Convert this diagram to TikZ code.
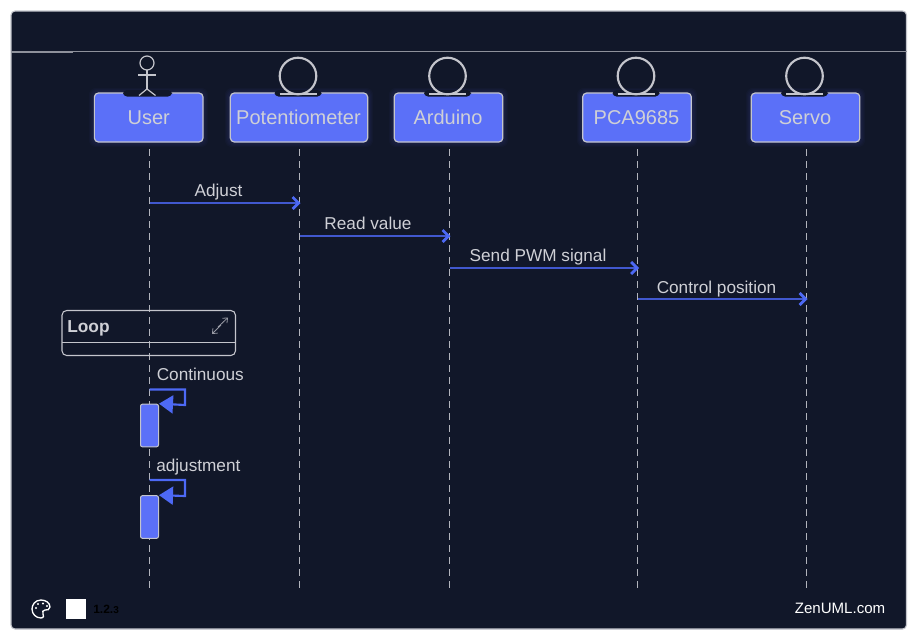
\documentclass[tikz,border=0pt]{standalone}
\usepackage{fontspec}
\setmainfont{Liberation Sans}
\usetikzlibrary{arrows.meta,calc}
\definecolor{bgdark}{HTML}{111729}
\definecolor{boxblue}{HTML}{5B70F8}
\definecolor{edgegrey}{HTML}{C4C5CC}
\definecolor{inktext}{HTML}{CFD0D6}
\definecolor{msgblue}{HTML}{4158CF}
\definecolor{tipblue}{HTML}{4D69F5}
\definecolor{glowblue}{HTML}{5B70F8}
\newcommand{\boxtext}[1]{\hspace*{-0.75pt}#1}
\tikzset{
  x=0.75pt,y=-0.75pt,
  actorbox/.style={draw=edgegrey,line width=0.9pt,fill=boxblue,rounded corners=3pt,minimum height=36.75pt,inner sep=0pt,text=inktext,font=\fontsize{15}{18}\selectfont},
  lifeline/.style={draw=edgegrey!90!bgdark,line width=0.75pt,dash pattern=on 5.25pt off 3.75pt},
  msg/.style={draw=msgblue,line width=1pt,-{Straight Barb[length=4.5pt,width=9pt,line width=2pt,color=tipblue]}},
  selfmsg/.style={draw=tipblue,line width=1.6pt,-{Triangle[length=10.5pt,width=13.5pt,color=tipblue]}},
  msglabel/.style={text=inktext,font=\fontsize{12.9}{15}\selectfont,inner sep=0pt,anchor=base},
  activation/.style={draw=edgegrey,line width=0.75pt,fill=boxblue,rounded corners=1.5pt,minimum width=13.5pt,inner sep=0pt},
  figureink/.style={draw=edgegrey,line width=0.9pt},
  entityink/.style={draw=edgegrey,line width=1.6pt},
  notch/.style={fill=bgdark,draw=none,rounded corners=3pt}
}
\begin{document}
\begin{tikzpicture}
\useasboundingbox (0,0) rectangle (917,640);
\fill[white] (0,0) rectangle (917,640);
\draw[draw=edgegrey,line width=0.8pt,fill=bgdark,rounded corners=3pt] (11,11) rectangle (906.5,629);
\draw[draw=edgegrey!70!bgdark,line width=0.8pt] (11,51.5) -- (906.5,51.5);
\draw[draw=edgegrey!70!bgdark,line width=1.1pt] (11,51.8) -- (73,51.8);
% glows
\foreach \a/\b in {94/203,230/368,394/503,582/692,751/860}{
  \foreach \g in {5,4,3,2,1}{
    \fill[glowblue,opacity=0.03,rounded corners=5pt] (\a-\g,93-\g) rectangle (\b+\g,142+\g);
  }
}
% actor boxes
\node[actorbox,minimum width=81.5pt] (user) at (148.7,117.5) {User};
\node[actorbox,minimum width=103pt] (pot) at (299,117.5) {\boxtext{Potentiometer}};
\node[actorbox,minimum width=81.5pt] (ard) at (448.5,117.5) {\boxtext{Arduino}};
\node[actorbox,minimum width=81.5pt] (pca) at (637,117.5) {\boxtext{PCA9685}};
\node[actorbox,minimum width=81.5pt] (servo) at (805.5,117.5) {\boxtext{Servo}};
% lifeline ends
\coordinate (ue) at (149,589);
\coordinate (pe) at (299,589);
\coordinate (ae) at (449,589);
\coordinate (ce) at (637.5,589);
\coordinate (se) at (806,589);
\coordinate (us) at (149,149);
\coordinate (ps) at (299,149);
\coordinate (as) at (449,149);
\coordinate (cs) at (637.5,149);
\coordinate (ss) at (806,149);
\draw[lifeline] (us) -- (ue);
\draw[lifeline] (ps) -- (pe);
\draw[lifeline] (as) -- (ae);
\draw[lifeline] (cs) -- (ce);
\draw[lifeline] (ss) -- (se);
% notches
\fill[notch] (123,90) rectangle (172,96.5);
\foreach \c in {298,447.5,636,804.5}{
  \fill[notch] (\c-23.5,90) rectangle (\c+23.5,96.5);
}
% actor figure
\draw[figureink] (147,63) circle[radius=7];
\draw[figureink] (138,75) -- (156,75);
\draw[figureink] (147,70) -- (147,89);
\draw[figureink] (139,95.5) -- (147,89) -- (155.5,95.5);
% entity figures
\foreach \c in {298,447.5,636,804.5}{
  \draw[entityink] (\c,76) circle[radius=18.3];
  \draw[entityink] (\c-18.5,94) -- (\c+18.5,94);
}
% messages
\coordinate (m1a) at (149.5,203);\coordinate (m1b) at (300.5,203);
\coordinate (m2a) at (299.5,236);\coordinate (m2b) at (450.5,236);
\coordinate (m3a) at (449.5,268);\coordinate (m3b) at (639,268);
\coordinate (m4a) at (638,299);\coordinate (m4b) at (807.5,299);
\draw[msg] (m1a) -- (m1b);
\draw[msg] (m2a) -- (m2b);
\draw[msg] (m3a) -- (m3b);
\draw[msg] (m4a) -- (m4b);
\node[msglabel] (l1) at (218.5,196) {Adjust};
\node[msglabel] (l2) at (368,229) {Read value};
\node[msglabel] (l3) at (538,261) {Send PWM signal};
\node[msglabel] (l4) at (716.5,293) {Control position};
% loop fragment
\draw[draw=edgegrey,line width=0.8pt,rounded corners=3.5pt] (62,310.5) rectangle (235.5,355.5);
\draw[draw=edgegrey,line width=0.7pt] (62,342.5) -- (235.5,342.5);
\node[anchor=base west,inner sep=0pt,text=inktext,font=\fontsize{13}{15}\selectfont\bfseries] (looplabel) at (67,332.5) {Loop};
\draw[draw=edgegrey!75!bgdark,line width=0.6pt,-{Straight Barb[length=3pt,width=5pt]}] (218,327) -- (228,317.5);
\draw[draw=edgegrey!75!bgdark,line width=0.6pt,-{Straight Barb[length=3pt,width=5pt]}] (221,325) -- (212,334);
% activations
\node[activation,minimum height=32pt] (act1) at (149.5,425.5) {};
\node[activation,minimum height=32pt] (act2) at (149.5,517) {};
\coordinate (s1) at (149.5,389.5);\coordinate (s1c) at (185,389.5);\coordinate (s1d) at (185,405);
\coordinate (s2) at (149.5,480);\coordinate (s2c) at (185,480);\coordinate (s2d) at (185,496);
\draw[selfmsg] (s1) -- (s1c) -- (s1d) -- (act1.north east);
\draw[selfmsg] (s2) -- (s2c) -- (s2d) -- (act2.north east);
\node[msglabel,anchor=base west] (l5) at (156.5,380) {Continuous};
\node[msglabel,anchor=base west] (l6) at (156,471) {adjustment};
% footer
\draw[draw=white,line width=1pt] (41,600) .. controls (35,600) and (32,605) .. (32,609)
  .. controls (32,614) and (36,618) .. (41,618) .. controls (44,618) and (44,615) .. (43,614)
  .. controls (42,612) and (43,610) .. (45,610) .. controls (47,610) and (50,610) .. (50,607)
  .. controls (50,603) and (46,600) .. (41,600) -- cycle;
\foreach \p/\q in {36/608,38/604,43/603.5,47/606}{\fill[white] (\p,\q) circle[radius=1.2];}
\fill[white] (66,599) rectangle (86,619);
\node[anchor=base west,inner sep=0pt,text=black,font=\bfseries\fontsize{9}{10}\selectfont] (ver) at (93,613.5) {1.2.{\fontsize{7.5}{9}\selectfont 3}};
\node[anchor=base east,inner sep=0pt,text=white,font=\fontsize{11.3}{13}\selectfont] (zen) at (885.5,613.5) {ZenUML.com};
\end{tikzpicture}
\end{document}
